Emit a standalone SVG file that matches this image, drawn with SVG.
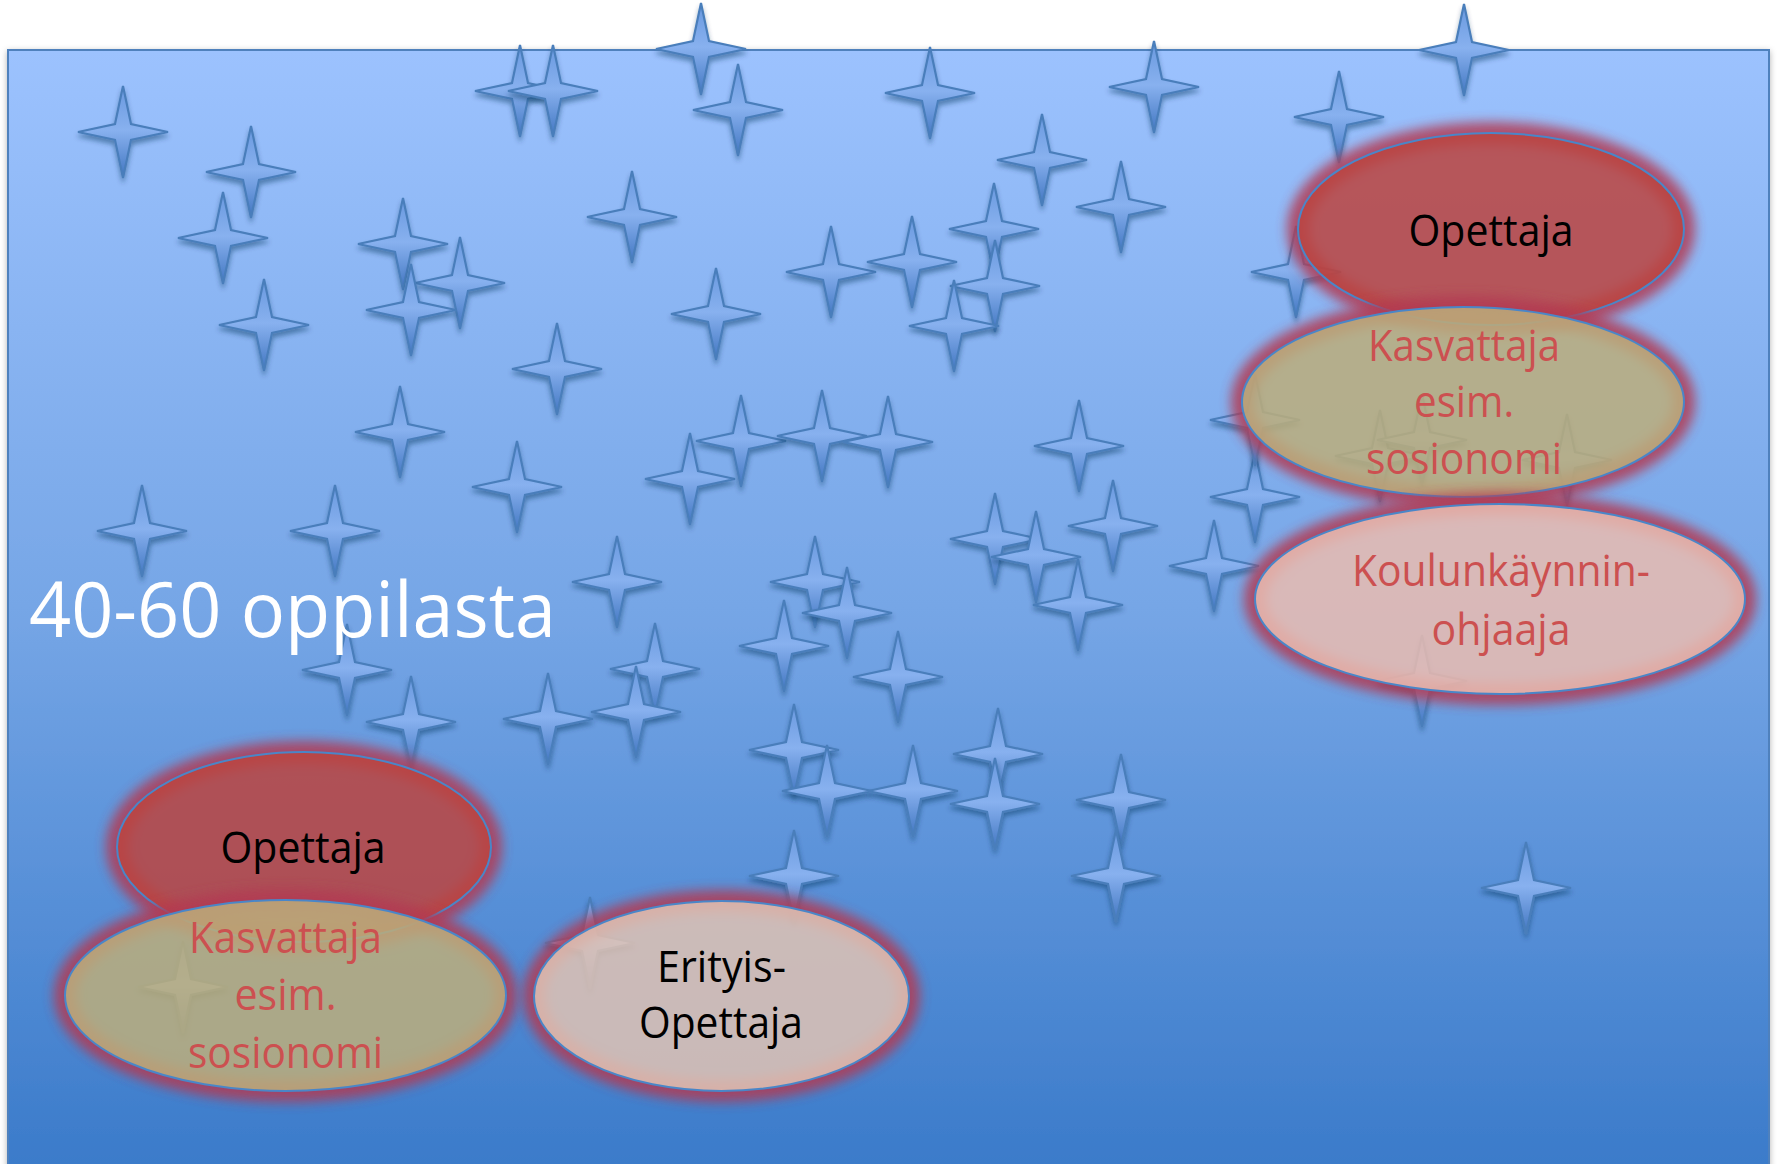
<svg xmlns="http://www.w3.org/2000/svg" xmlns:xlink="http://www.w3.org/1999/xlink" width="1779" height="1164" viewBox="0 0 1779 1164">
<defs>
<linearGradient id="bg" gradientUnits="userSpaceOnUse" x1="0" y1="50" x2="0" y2="1164">
<stop offset="0" stop-color="#9CC2FE"/>
<stop offset="0.5" stop-color="#76A6E6"/>
<stop offset="1" stop-color="#3B7BCA"/>
</linearGradient>
<linearGradient id="sg" x1="0" y1="0" x2="0" y2="1">
<stop offset="0" stop-color="#6898DE"/>
<stop offset="0.48" stop-color="#88B1EF"/>
<stop offset="1" stop-color="#4075C0"/>
</linearGradient>
<filter id="shadow" x="-30%" y="-30%" width="160%" height="170%">
<feDropShadow dx="0" dy="4" stdDeviation="2.5" flood-color="#10305A" flood-opacity="0.45"/>
</filter>
<filter id="rshadow" x="-2%" y="-2%" width="104%" height="104%">
<feDropShadow dx="0" dy="2" stdDeviation="3" flood-color="#000" flood-opacity="0.3"/>
</filter>
<filter id="blur" x="-20%" y="-40%" width="140%" height="180%">
<feGaussianBlur stdDeviation="6"/>
</filter>
<path id="star" d="M0,-46 L8,-8 L45,0 L8,8 L0,46 L-8,8 L-45,0 L-8,-8 Z" fill="url(#sg)" stroke="#4A7EBB" stroke-width="2.2" stroke-linejoin="miter"/>
</defs>
<style>
.stars use{filter:url(#shadow)}
.glow{fill:none;stroke:#B23A52;stroke-width:22;opacity:0.85;filter:url(#blur)}
.el{stroke:#4A86C8;stroke-width:2;fill-opacity:0.86}
.t{font-family:"Open Sans","Noto Sans",sans-serif;font-size:43px;text-anchor:middle}
.blk{fill:#000}
.red{fill:#CC5050}
</style>
<rect id="board" x="8" y="50" width="1761" height="1160" fill="url(#bg)" stroke="#4F81BD" stroke-width="2" filter="url(#rshadow)"/>
<g class="stars" id="stars">
<use href="#star" x="123" y="132"/>
<use href="#star" x="251" y="172"/>
<use href="#star" x="223" y="238"/>
<use href="#star" x="264" y="325"/>
<use href="#star" x="403" y="244"/>
<use href="#star" x="460" y="283"/>
<use href="#star" x="411" y="310"/>
<use href="#star" x="520" y="91"/>
<use href="#star" x="553" y="91"/>
<use href="#star" x="557" y="369"/>
<use href="#star" x="701" y="49"/>
<use href="#star" x="738" y="110"/>
<use href="#star" x="930" y="93"/>
<use href="#star" x="1154" y="87"/>
<use href="#star" x="632" y="217"/>
<use href="#star" x="1042" y="160"/>
<use href="#star" x="1121" y="207"/>
<use href="#star" x="994" y="229"/>
<use href="#star" x="831" y="272"/>
<use href="#star" x="912" y="262"/>
<use href="#star" x="995" y="286"/>
<use href="#star" x="954" y="326"/>
<use href="#star" x="716" y="314"/>
<use href="#star" x="1296" y="272"/>
<use href="#star" x="1339" y="117"/>
<use href="#star" x="1464" y="50"/>
<use href="#star" x="400" y="432"/>
<use href="#star" x="517" y="487"/>
<use href="#star" x="142" y="531"/>
<use href="#star" x="335" y="531"/>
<use href="#star" x="617" y="582"/>
<use href="#star" x="690" y="479"/>
<use href="#star" x="347" y="670"/>
<use href="#star" x="655" y="669"/>
<use href="#star" x="636" y="712"/>
<use href="#star" x="411" y="722"/>
<use href="#star" x="548" y="719"/>
<use href="#star" x="741" y="441"/>
<use href="#star" x="822" y="436"/>
<use href="#star" x="888" y="442"/>
<use href="#star" x="1079" y="446"/>
<use href="#star" x="995" y="539"/>
<use href="#star" x="1036" y="557"/>
<use href="#star" x="1113" y="526"/>
<use href="#star" x="1078" y="605"/>
<use href="#star" x="1214" y="566"/>
<use href="#star" x="1255" y="497"/>
<use href="#star" x="815" y="582"/>
<use href="#star" x="847" y="613"/>
<use href="#star" x="784" y="646"/>
<use href="#star" x="898" y="677"/>
<use href="#star" x="794" y="750"/>
<use href="#star" x="827" y="791"/>
<use href="#star" x="913" y="791"/>
<use href="#star" x="998" y="754"/>
<use href="#star" x="995" y="804"/>
<use href="#star" x="1121" y="800"/>
<use href="#star" x="1116" y="876"/>
<use href="#star" x="794" y="876"/>
<use href="#star" x="1526" y="888"/>
<use href="#star" x="1255" y="420"/>
<use href="#star" x="1380" y="456"/>
<use href="#star" x="1422" y="440"/>
<use href="#star" x="1567" y="460"/>
<use href="#star" x="1422" y="681"/>
<use href="#star" x="183" y="987"/>
<use href="#star" x="590" y="943"/>
</g>
<text id="count" x="29" y="637" font-family="'Open Sans','Noto Sans',sans-serif" font-size="77" fill="#FFFFFF" textLength="527" lengthAdjust="spacingAndGlyphs">40-60 oppilasta</text>
<g id="connectors"/>
<g id="opettaja-right">
<ellipse class="glow" cx="1491" cy="229" rx="193" ry="96"/>
<ellipse class="el" cx="1491" cy="229" rx="193" ry="96" fill="#BC4540"/>
<text class="t blk" x="1491" y="246" font-size="44" textLength="165" lengthAdjust="spacingAndGlyphs">Opettaja</text>
</g>
<g id="kasvattaja-right">
<ellipse class="glow" cx="1463" cy="402" rx="221" ry="95"/>
<ellipse class="el" cx="1463" cy="402" rx="221" ry="95" fill="#BCAE7B"/>
<text class="t red" x="1464" y="361" font-size="44" textLength="192" lengthAdjust="spacingAndGlyphs">Kasvattaja</text>
<text class="t red" x="1464" y="417" font-size="44" textLength="100" lengthAdjust="spacingAndGlyphs">esim.</text>
<text class="t red" x="1464" y="474" font-size="44" textLength="196" lengthAdjust="spacingAndGlyphs">sosionomi</text>
</g>
<g id="koulunkaynninohjaaja">
<ellipse class="glow" cx="1500" cy="599" rx="245" ry="95"/>
<ellipse class="el" cx="1500" cy="599" rx="245" ry="95" fill="#E9BBB0"/>
<text class="t red" x="1501" y="586" font-size="45" textLength="298" lengthAdjust="spacingAndGlyphs">Koulunkäynnin-</text>
<text class="t red" x="1501" y="645" font-size="45" textLength="139" lengthAdjust="spacingAndGlyphs">ohjaaja</text>
</g>
<g id="opettaja-left">
<ellipse class="glow" cx="304" cy="847" rx="187" ry="95"/>
<ellipse class="el" cx="304" cy="847" rx="187" ry="95" fill="#BC4540"/>
<text class="t blk" x="303" y="863" font-size="44" textLength="165" lengthAdjust="spacingAndGlyphs">Opettaja</text>
</g>
<g id="kasvattaja-left">
<ellipse class="glow" cx="285.5" cy="995.5" rx="220.5" ry="95.5"/>
<ellipse class="el" cx="285.5" cy="995.5" rx="220.5" ry="95.5" fill="#BCAE7B"/>
<text class="t red" x="285.5" y="953" font-size="44" textLength="193" lengthAdjust="spacingAndGlyphs">Kasvattaja</text>
<text class="t red" x="285.5" y="1010" font-size="44" textLength="102" lengthAdjust="spacingAndGlyphs">esim.</text>
<text class="t red" x="285.5" y="1068" font-size="44" textLength="195" lengthAdjust="spacingAndGlyphs">sosionomi</text>
</g>
<g id="erityisopettaja">
<ellipse class="glow" cx="721.5" cy="996" rx="187.5" ry="95"/>
<ellipse class="el" cx="721.5" cy="996" rx="187.5" ry="95" fill="#DFC2B3"/>
<text class="t blk" x="721.5" y="982" font-size="44" textLength="129" lengthAdjust="spacingAndGlyphs">Erityis-</text>
<text class="t blk" x="721" y="1038" font-size="44" textLength="164" lengthAdjust="spacingAndGlyphs">Opettaja</text>
</g>
</svg>
